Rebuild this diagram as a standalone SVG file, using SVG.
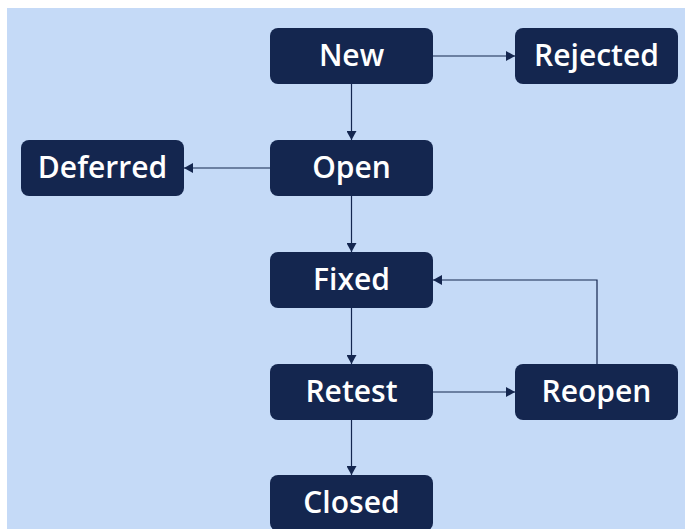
<svg xmlns="http://www.w3.org/2000/svg" width="685" height="529" viewBox="0 0 685 529">
  <style>
    .node rect { fill: #14264f; }
    .node text { fill: #ffffff; font-family: "Open Sans", "Noto Sans", sans-serif; font-weight: 600; font-size: 30px; text-anchor: middle; }
    .edge { fill: none; stroke: #14264f; stroke-width: 1.2; marker-end: url(#arrow); }
  </style>
  <defs>
    <marker id="arrow" markerWidth="10" markerHeight="10" refX="9" refY="5" orient="auto" markerUnits="userSpaceOnUse">
      <path d="M0,0 L9,5 L0,10 Z" fill="#14264f"/>
    </marker>
  </defs>
  <rect x="0" y="0" width="685" height="529" fill="#ffffff"/>
  <rect x="7" y="8" width="678" height="521" fill="#c5daf7"/>

  <g id="connectors">
    <path class="edge" d="M351.5,84 V140"/>
    <path class="edge" d="M433,56 H515"/>
    <path class="edge" d="M270,168 H184"/>
    <path class="edge" d="M351.5,196 V252"/>
    <path class="edge" d="M351.5,308 V364"/>
    <path class="edge" d="M433,392 H515"/>
    <path class="edge" d="M351.5,420 V475"/>
    <path class="edge" d="M597,364 V280 H433"/>
  </g>

  <g id="new" class="node"><rect x="270" y="28" width="163" height="56" rx="8"/><text x="351.5" y="65.5">New</text></g>
  <g id="rejected" class="node"><rect x="515" y="28" width="163" height="56" rx="8"/><text x="596.5" y="65.5">Rejected</text></g>
  <g id="open" class="node"><rect x="270" y="140" width="163" height="56" rx="8"/><text x="351.5" y="177.5">Open</text></g>
  <g id="deferred" class="node"><rect x="21" y="140" width="163" height="56" rx="8"/><text x="102.5" y="177.5">Deferred</text></g>
  <g id="fixed" class="node"><rect x="270" y="252" width="163" height="56" rx="8"/><text x="351.5" y="289.5">Fixed</text></g>
  <g id="retest" class="node"><rect x="270" y="364" width="163" height="56" rx="8"/><text x="351.5" y="401.5">Retest</text></g>
  <g id="reopen" class="node"><rect x="515" y="364" width="163" height="56" rx="8"/><text x="596.5" y="401.5">Reopen</text></g>
  <g id="closed" class="node"><rect x="270" y="475" width="163" height="56" rx="8"/><text x="351.5" y="512.5">Closed</text></g>
</svg>
